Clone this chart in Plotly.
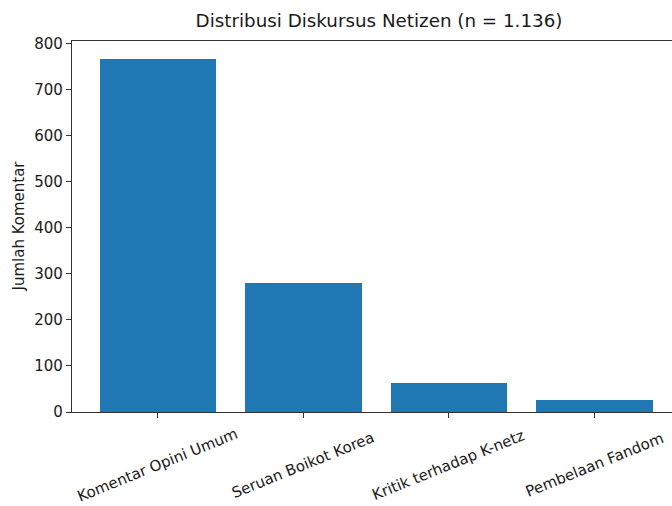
import plotly.graph_objects as go

categories = ["Komentar Opini Umum", "Seruan Boikot Korea", "Kritik terhadap K-netz", "Pembelaan Fandom"]
counts = [767, 279, 63, 27]
title_text = "Distribusi Diskursus Netizen (n = 1.136)"
y_label = "Jumlah Komentar"
y_ticks = [0, 100, 200, 300, 400, 500, 600, 700, 800]

FONT = "DejaVu Sans"
TXT = "#1a1a1a"
idx = list(range(len(categories)))

W, H = 672, 506
L, R, T, B = 72, 0, 41, 94
PW = W - L - R

fig = go.Figure()
fig.add_trace(go.Bar(x=idx, y=counts, width=0.8, marker=dict(color="#1f77b4", line=dict(width=0))))

for i, c in zip(idx, categories):
    fig.add_annotation(x=i, y=0, xref="x", yref="y", text=c, showarrow=False,
                       textangle=-22, xanchor="center", yanchor="middle", yshift=-53,
                       font=dict(family=FONT, size=15, color=TXT))

fig.add_annotation(x=(18 - L) / PW, y=0.5, xref="paper", yref="paper", text=y_label,
                   showarrow=False, textangle=-90, xanchor="center", yanchor="middle",
                   font=dict(family=FONT, size=15, color=TXT))

fig.update_layout(
    width=W, height=H,
    margin=dict(l=L, r=R, t=T, b=B, autoexpand=False),
    paper_bgcolor="white", plot_bgcolor="white",
    showlegend=False,
    bargap=0,
    title=dict(text=title_text, x=379 / W, xref="container", xanchor="center",
               y=1 - 21 / H, yref="container", yanchor="middle",
               font=dict(family=FONT, size=18.3, color=TXT)),
    font=dict(family=FONT, size=15, color=TXT),
)
fig.update_xaxes(range=[-0.59, 3.534], tickvals=idx, showticklabels=False, automargin=False,
                 ticks="outside", ticklen=5, tickcolor="#333", showgrid=False, zeroline=False,
                 showline=True, linecolor="#333", linewidth=1.2, mirror=True)
fig.update_yaxes(range=[0, 805], tickvals=y_ticks, ticks="outside", ticklen=5, tickcolor="#333",
                 automargin=False,
                 showgrid=False, zeroline=False, showline=True, linecolor="#333", linewidth=1.2,
                 tickfont=dict(family=FONT, size=15, color=TXT))

fig.write_html("out.html", config={"displayModeBar": False},
               post_script="document.body.style.margin='0';document.body.style.padding='0';")
